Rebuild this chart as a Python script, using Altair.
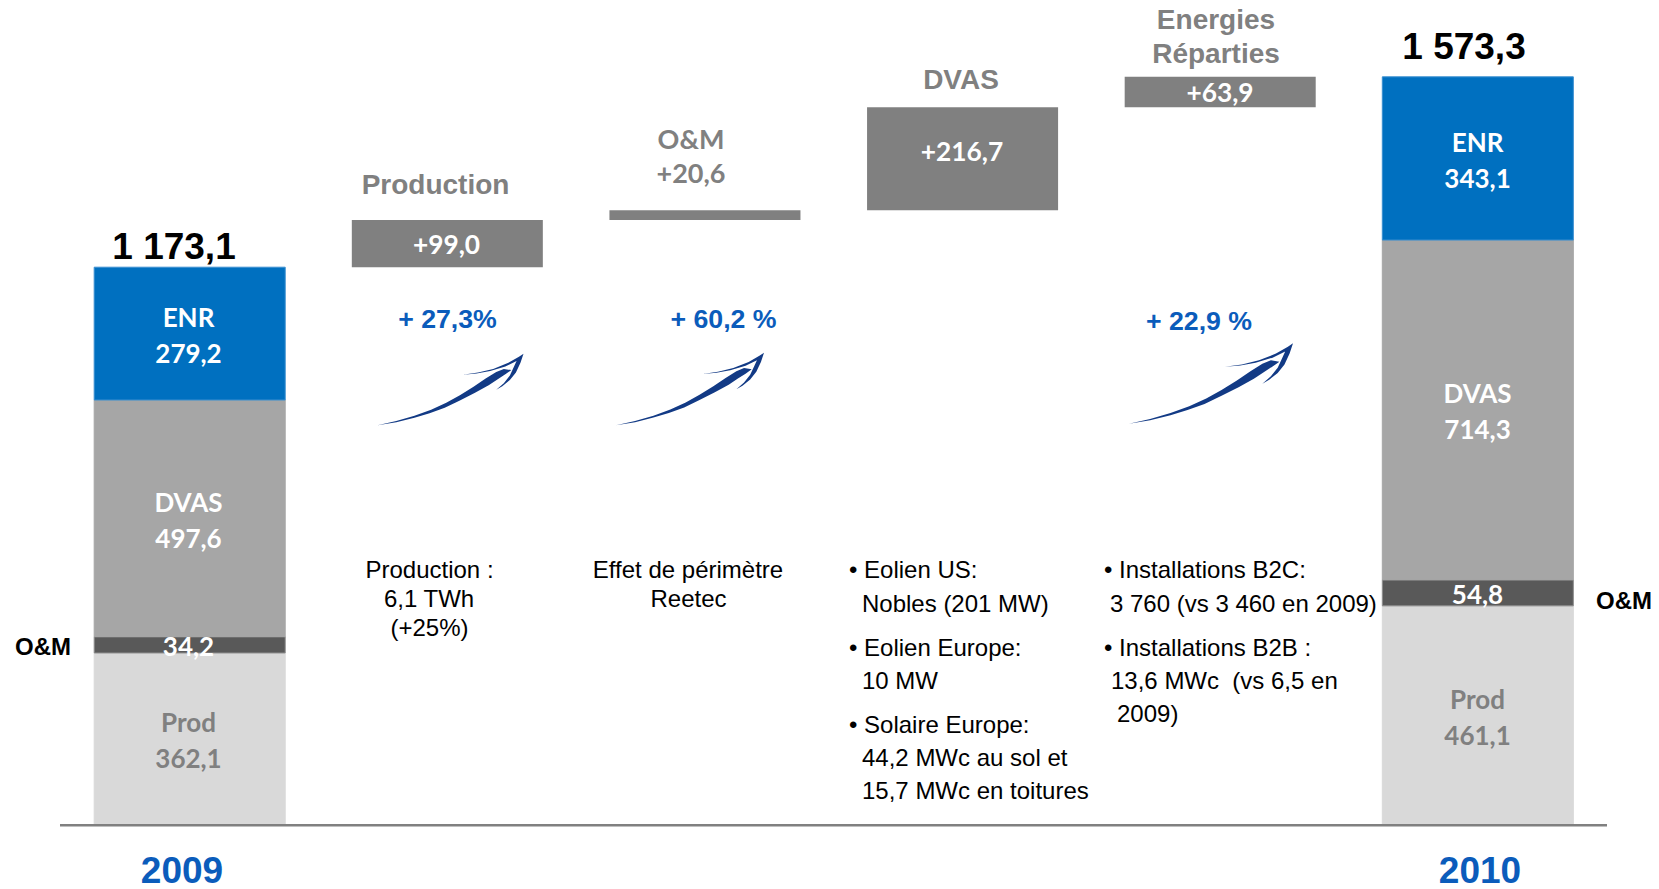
import altair as alt
import pandas as pd

# ---- data ----
years = ["2009", "2010"]
segments = ["Prod", "O&M", "DVAS", "ENR"]
values_2009 = [362.1, 34.2, 497.6, 279.2]
values_2010 = [461.1, 54.8, 714.3, 343.1]
totals = ["1 173,1", "1 573,3"]
steps = ["Production", "O&M effect", "DVAS effect", "Energies Réparties"]
step_values = [99.0, 20.6, 216.7, 63.9]
step_labels = ["+99,0", "", "+216,7", "+63,9"]
categories = ["2009"] + steps + ["2010"]
segment_colors = ["#D9D9D9", "#595959", "#A6A6A6", "#0070C0"]
segment_strokes = ["#D9D9D9", "#8C8C8C", "#A6A6A6", "#3A8FD0"]

SANS = "Liberation Sans"
CAL = "Lato"
GREY = "#808080"
BLUE = "#0B5CBB"
NAVY = "#123A85"
W, H = 1643, 877


def fr(v):
    return f"{v:.1f}".replace(".", ",")


rows = []
for year, vals in zip(years, [values_2009, values_2010]):
    low = 0.0
    for seg, v in zip(segments, vals):
        rows.append({
            "cat": year, "seg": seg, "low": low, "high": low + v, "mid": low + v / 2,
            "label": fr(v) if seg == "O&M" else f"{seg}\n{fr(v)}",
            "tone": "#808080" if seg == "Prod" else "#FFFFFF",
        })
        low += v
stack = pd.DataFrame(rows)

start = sum(values_2009)
w_rows = []
for s, v, lab in zip(steps, step_values, step_labels):
    w_rows.append({"cat": s, "low": start, "high": start + v, "label": lab})
    start += v
waterfall = pd.DataFrame(w_rows)

px_per_unit = 558 / sum(values_2009)
y_scale = alt.Scale(domain=[(817.2 - H) / px_per_unit, 817.2 / px_per_unit], nice=False, zero=False)
x_scale = alt.Scale(domain=categories, paddingInner=0.2585, paddingOuter=0.318, align=0.526)
X = alt.X("cat:N", scale=x_scale, axis=None)

bars = alt.Chart(stack).mark_bar(strokeWidth=1).encode(
    x=X,
    y=alt.Y("low:Q", scale=y_scale, axis=None),
    y2="high:Q",
    color=alt.Color("seg:N", scale=alt.Scale(domain=segments, range=segment_colors), legend=None),
    stroke=alt.Stroke("seg:N", scale=alt.Scale(domain=segments, range=segment_strokes), legend=None),
)


def segment_text(frame, dx, dy):
    return alt.Chart(frame).mark_text(
        font=CAL, fontWeight="bold", fontSize=26, lineBreak="\n", lineHeight=36, baseline="middle", dx=dx, dy=dy
    ).encode(
        x=X,
        y=alt.Y("mid:Q", scale=y_scale, axis=None),
        text="label:N",
        color=alt.Color("tone:N", scale=None),
    )


text_layers = []
for year, dx in zip(years, [-1.2, -0.3]):
    part = stack[stack["cat"] == year]
    text_layers.append(segment_text(part[part["seg"] != "O&M"], dx, -14.6))
    text_layers.append(segment_text(part[part["seg"] == "O&M"], dx, 3.4))

deltas = alt.Chart(waterfall).mark_bar(color=GREY).encode(
    x=X, y=alt.Y("low:Q", scale=y_scale, axis=None), y2="high:Q"
)
baseline = alt.Chart(pd.DataFrame({"zero": [0]})).mark_rule(color=GREY, strokeWidth=2.5).encode(
    x=alt.value(60 - 8), x2=alt.value(1607 - 8), y=alt.Y("zero:Q", scale=y_scale, axis=None)
)


def note(text, x, y, size, color="#000000", bold=False, font=SANS, align="center"):
    return alt.Chart(pd.DataFrame({"t": [text]})).mark_text(
        font=font, fontSize=size, color=color, fontWeight="bold" if bold else "normal",
        align=align, baseline="alphabetic",
    ).encode(x=alt.value(x - 8), y=alt.value(y - 8), text="t:N")


trace_body = [(28, 264), (90, 250), (150, 233), (205, 213), (255, 190), (300, 165), (345, 137), (385, 110),
              (420, 88), (445, 78), (470, 82), (450, 96), (425, 112), (395, 132), (350, 157), (300, 182),
              (250, 206), (200, 224), (150, 239), (90, 254)]
trace_head = [(310, 97), (360, 90), (410, 78), (460, 58), (495, 38), (510, 28), (500, 58), (485, 90), (465, 115),
              (440, 135), (420, 147), (445, 125), (465, 100), (478, 72), (487, 52), (450, 70), (400, 85), (355, 93)]


def to_path(pts):
    cmd = " ".join(("M" if i == 0 else "L") + f"{(x - 269) / 241:.4f},{(y - 146) / 241:.4f}"
                   for i, (x, y) in enumerate(pts))
    return cmd + " Z"


ARROW = to_path(trace_body) + " " + to_path(trace_head)


def arrow(cx, cy, w):
    return alt.Chart(pd.DataFrame({"a": [1]})).mark_point(
        shape=ARROW, size=w * w, filled=True, color=NAVY, opacity=1, strokeWidth=0
    ).encode(x=alt.value(cx - 8), y=alt.value(cy - 8))


layers = [bars, deltas, baseline] + text_layers

# totals and years
layers += [
    note(totals[0], 174, 259, 37, bold=True),
    note(totals[1], 1464, 59, 37, bold=True),
    note(years[0], 182, 883, 37, BLUE, True),
    note(years[1], 1480, 883, 37, BLUE, True),
    note("O&M", 43, 655, 24, bold=True),
    note("O&M", 1624, 609, 24, bold=True),
]
# step captions
layers += [
    note("Production", 435.5, 194, 28, GREY, True),
    note("O&M", 691, 149, 27, GREY, True, CAL),
    note("+20,6", 691, 183, 27, GREY, True, CAL),
    note("DVAS", 961, 89, 28, GREY, True),
    note("Energies", 1216, 29, 28, GREY, True),
    note("Réparties", 1216, 63, 28, GREY, True),
    note(step_labels[0], 446.5, 253.5, 26.3, "#FFFFFF", True, CAL),
    note(step_labels[2], 962, 161, 26.3, "#FFFFFF", True, CAL),
    note(step_labels[3], 1220, 102, 26.3, "#FFFFFF", True, CAL),
]
# growth rates and arrows
layers += [
    note("+ 27,3%", 447.5, 328, 26.7, BLUE, True),
    note("+ 60,2 %", 723.5, 328, 26.7, BLUE, True),
    note("+ 22,9 %", 1199, 330, 26.7, BLUE, True),
    arrow(450.5, 389.5, 146),
    arrow(690, 389, 148),
    arrow(1211, 383.5, 164),
]
# commentary
layers += [
    note("Production :", 429.5, 578, 24),
    note("6,1 TWh", 429, 607, 24),
    note("(+25%)", 429.5, 636, 24),
    note("Effet de périmètre", 688, 578, 24),
    note("Reetec", 688.5, 607, 24),
]
col1 = [("• Eolien US:", 849, 577.5), ("Nobles (201 MW)", 862, 612), ("• Eolien Europe:", 849, 655.5), ("10 MW", 862, 688.5),
        ("• Solaire Europe:", 849, 733), ("44,2 MWc au sol et", 862, 766), ("15,7 MWc en toitures", 862, 799)]
col2 = [("• Installations B2C:", 1104, 577.5), ("3 760 (vs 3 460 en 2009)", 1110, 612),
        ("• Installations B2B :", 1104, 655.5), ("13,6 MWc\u00a0 (vs 6,5 en", 1111, 688.5), ("2009)", 1117, 722)]
layers += [note(t, x, y, 24, align="left") for t, x, y in col1 + col2]

chart = alt.layer(*layers).properties(
    width=W, height=H, padding=0, autosize=alt.AutoSizeParams(type="none")
).configure_view(stroke=None)

chart.save("out.html", embed_options={"renderer": "svg", "actions": False})
